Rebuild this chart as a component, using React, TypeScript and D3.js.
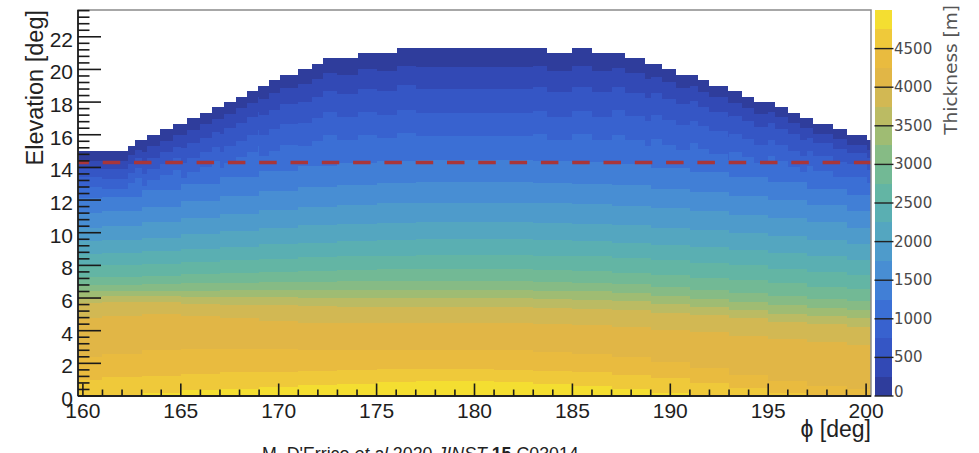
import React from "react";
import * as d3 from "d3";

const WIDTH = 979;
const HEIGHT = 453;

// ---- axis ticks ----
const phiTicks = [160, 165, 170, 175, 180, 185, 190, 195, 200];
const elevationTicks = [0, 2, 4, 6, 8, 10, 12, 14, 16, 18, 20, 22];
const thicknessTicks = [0, 500, 1000, 1500, 2000, 2500, 3000, 3500, 4000, 4500];

// ---- horizon profile (step start phi, elevation of the step) ----
const horizonPhi = [159.75, 162.3, 162.65, 163.25, 163.95, 164.6, 165.3, 166.0, 166.6, 167.2, 167.8, 168.4, 168.95, 169.5, 170.05, 171.0, 171.7, 172.25, 174.05, 176.05, 183.7, 185.0, 186.0, 187.7, 188.7, 189.6, 190.3, 191.4, 192.0, 192.95, 193.65, 194.3, 195.35, 196.0, 196.6, 197.3, 198.3, 199.0, 200.05];
const horizonElevation = [15.0, 15.33, 15.67, 16.0, 16.33, 16.67, 17.0, 17.33, 17.67, 18.0, 18.33, 18.67, 19.0, 19.33, 19.67, 20.0, 20.33, 20.67, 21.0, 21.33, 21.0, 21.33, 21.0, 20.67, 20.33, 20.0, 19.67, 19.33, 19.0, 18.67, 18.33, 18.0, 17.67, 17.33, 17.0, 16.67, 16.33, 16.0, 15.67];

// ---- thickness field, read per phi column ----
const columnPhi = [160, 162, 164, 166, 168, 170, 172, 174, 176, 178, 180, 182, 184, 186, 188, 190, 192, 194, 196, 198, 200];

// upper levels: depth (deg) below the horizon where thickness reaches the level
const depthLevels = [250, 500, 750, 1000];
const depthBelowHorizon = [
  [0.6, 0.6, 0.7, 0.7, 0.7, 0.8, 0.9, 1.0, 1.1, 1.2, 1.2, 1.2, 1.1, 1.1, 0.9, 0.8, 0.7, 0.7, 0.6, 0.6, 0.6],
  [1.1, 1.1, 1.4, 1.5, 1.6, 1.8, 2.0, 2.2, 2.3, 2.5, 2.5, 2.5, 2.4, 2.4, 2.1, 1.8, 1.6, 1.5, 1.3, 1.2, 1.1],
  [1.6, 1.7, 2.1, 2.4, 2.7, 3.0, 3.3, 3.6, 3.8, 4.0, 4.0, 4.0, 3.9, 3.9, 3.5, 3.1, 2.8, 2.6, 2.3, 2.0, 1.8],
  [2.2, 2.3, 2.8, 3.3, 3.7, 4.3, 4.7, 5.0, 5.2, 5.4, 5.4, 5.4, 5.3, 5.3, 5.0, 4.6, 4.2, 3.7, 3.3, 2.9, 2.6],
];

// lower levels: elevation (deg) where thickness reaches the level
const elevationLevels = [1250, 1500, 1750, 2000, 2250, 2500, 2750, 3000, 3250, 3500, 3750, 4000, 4250, 4500, 4750];
const levelElevation = [
  [12.1, 12.2, 12.6, 13.0, 13.4, 13.8, 14.1, 14.3, 14.4, 14.45, 14.45, 14.45, 14.4, 14.35, 14.2, 13.95, 13.7, 13.4, 13.1, 12.7, 12.3],
  [11.2, 11.3, 11.6, 11.95, 12.25, 12.55, 12.8, 12.95, 13.05, 13.1, 13.1, 13.1, 13.05, 13.0, 12.9, 12.7, 12.5, 12.25, 12.0, 11.7, 11.3],
  [10.3, 10.4, 10.65, 10.9, 11.15, 11.4, 11.6, 11.7, 11.8, 11.85, 11.85, 11.85, 11.8, 11.75, 11.65, 11.5, 11.3, 11.1, 10.9, 10.65, 10.3],
  [9.5, 9.55, 9.7, 9.9, 10.1, 10.3, 10.45, 10.55, 10.6, 10.65, 10.65, 10.65, 10.6, 10.55, 10.45, 10.3, 10.15, 10.0, 9.8, 9.55, 9.3],
  [8.7, 8.75, 8.85, 9.0, 9.15, 9.3, 9.4, 9.5, 9.55, 9.6, 9.6, 9.6, 9.55, 9.5, 9.4, 9.25, 9.1, 8.95, 8.75, 8.55, 8.35],
  [8.0, 8.0, 8.1, 8.2, 8.3, 8.4, 8.5, 8.55, 8.6, 8.65, 8.65, 8.65, 8.6, 8.55, 8.45, 8.3, 8.15, 8.0, 7.8, 7.6, 7.4],
  [7.3, 7.3, 7.35, 7.45, 7.55, 7.6, 7.65, 7.7, 7.75, 7.75, 7.75, 7.75, 7.7, 7.65, 7.55, 7.4, 7.25, 7.1, 6.9, 6.7, 6.55],
  [6.8, 6.8, 6.85, 6.9, 6.95, 7.0, 7.0, 7.05, 7.05, 7.05, 7.05, 7.05, 7.0, 6.95, 6.85, 6.7, 6.5, 6.3, 6.1, 5.95, 5.8],
  [6.4, 6.45, 6.45, 6.45, 6.5, 6.5, 6.5, 6.5, 6.5, 6.5, 6.5, 6.5, 6.45, 6.4, 6.3, 6.15, 5.95, 5.75, 5.55, 5.4, 5.25],
  [6.05, 6.1, 6.1, 6.05, 6.05, 6.05, 6.0, 6.0, 6.0, 6.0, 6.0, 6.0, 5.95, 5.9, 5.8, 5.65, 5.45, 5.25, 5.05, 4.9, 4.75],
  [5.7, 5.75, 5.75, 5.65, 5.6, 5.55, 5.5, 5.45, 5.45, 5.45, 5.45, 5.45, 5.4, 5.35, 5.25, 5.1, 4.95, 4.75, 4.55, 4.4, 4.25],
  [4.8, 4.9, 5.0, 4.9, 4.75, 4.6, 4.5, 4.45, 4.45, 4.45, 4.45, 4.45, 4.4, 4.35, 4.2, 4.05, 3.9, 3.7, 3.5, 3.3, 3.1],
  [2.4, 2.6, 2.8, 2.9, 2.9, 2.85, 2.8, 2.8, 2.8, 2.8, 2.8, 2.8, 2.7, 2.6, 2.4, 2.1, 1.7, 1.3, 0.9, 0.6, 0.4],
  [1.0, 1.15, 1.25, 1.35, 1.45, 1.5, 1.55, 1.6, 1.65, 1.65, 1.65, 1.6, 1.55, 1.45, 1.3, 1.1, 0.8, 0.5, 0.2, 0, 0],
  [0, 0, 0.2, 0.35, 0.45, 0.55, 0.65, 0.75, 0.85, 0.9, 0.9, 0.85, 0.75, 0.6, 0.4, 0.2, 0, 0, 0, 0, 0],
];

const cutElevation = 14.3;

// ---- palette (20 contour bands of 250 m) ----
const bandColors = [
  "#2f3d9c", "#3249b5", "#3556c5", "#3862cf", "#3b6fd5",
  "#417fd6", "#488ed3", "#4e9bcb", "#54a6c0", "#5aafb2",
  "#63b5a4", "#72b995", "#86bb85", "#9fbc73", "#bbbb63",
  "#d2b853", "#e1b646", "#e9bb3f", "#efc93a", "#f4de31",
];

const PHI_MIN = 159.75;
const PHI_MAX = 200.25;
const EL_MAX = 23.64;
const T_MAX = 5000;

const SANS = "'Liberation Sans', Arial, Helvetica, sans-serif";
const DEJAVU = "'DejaVu Sans', Verdana, sans-serif";

export default function App() {
  const m = { left: 78, right: 871, top: 10, bottom: 396 };
  const x = d3.scaleLinear().domain([PHI_MIN, PHI_MAX]).range([m.left, m.right]);
  const y = d3.scaleLinear().domain([0, EL_MAX]).range([m.bottom, m.top]);
  const z = d3.scaleLinear().domain([0, T_MAX]).range([m.bottom, m.top]);
  const bandStep = T_MAX / bandColors.length;

  const horizonAt = (phi: number) =>
    horizonElevation[Math.max(0, d3.bisectRight(horizonPhi, phi) - 1)];

  const cells: { key: string; x0: number; x1: number; y0: number; y1: number; color: string }[] = [];
  columnPhi.forEach((p, j) => {
    const a = Math.max(PHI_MIN, p - 1);
    const b = Math.min(PHI_MAX, p + 1);
    const edges = [a, ...horizonPhi.filter((h) => h > a && h < b), b];
    for (let s = 0; s < edges.length - 1; s++) {
      const p0 = edges[s];
      const p1 = edges[s + 1];
      const hz = horizonAt((p0 + p1) / 2);
      const bnd = [
        hz,
        ...depthBelowHorizon.map((d) => hz - d[j]),
        ...levelElevation.map((l) => l[j]),
        0,
      ];
      for (let i = 1; i < bnd.length; i++) bnd[i] = Math.max(0, Math.min(bnd[i], bnd[i - 1]));
      for (let k = 0; k < bandColors.length; k++) {
        if (bnd[k] > bnd[k + 1]) {
          cells.push({
            key: `${j}-${s}-${k}`,
            x0: x(p0),
            x1: x(p1),
            y0: y(bnd[k]),
            y1: y(bnd[k + 1]),
            color: bandColors[k],
          });
        }
      }
    }
  });

  const xMinor = d3.range(160, 201, 1).filter((v) => v % 5 !== 0);
  const yMinor = d3.range(0, 60).map((i) => +(i * 0.4).toFixed(2)).filter((v) => v <= EL_MAX && Math.abs(v / 2 - Math.round(v / 2)) > 1e-6);

  const cbX0 = 874.5;
  const cbX1 = 891.5;

  return (
    <svg
      width={WIDTH}
      height={HEIGHT}
      style={{ position: "absolute", left: 0, top: 0, background: "#fff" }}
    >
      <rect x={0} y={0} width={WIDTH} height={HEIGHT} fill="#fff" />
      {/* heat map */}
      <g shapeRendering="crispEdges">
        {cells.map((c) => (
          <rect key={c.key} x={c.x0} y={c.y0} width={c.x1 - c.x0} height={c.y1 - c.y0} fill={c.color} />
        ))}
      </g>

      {/* dashed cut line */}
      <line
        x1={x(PHI_MIN)}
        x2={x(PHI_MAX)}
        y1={y(cutElevation)}
        y2={y(cutElevation)}
        stroke="#a8363a"
        strokeWidth={3.5}
        strokeDasharray="17.5 13.8"
        strokeDashoffset={6.6}
      />

      {/* frame */}
      <rect x={m.left} y={m.top} width={m.right - m.left} height={m.bottom - m.top} fill="none" stroke="#8a8a8a" strokeWidth={1.5} />
      <line x1={m.left} x2={m.left} y1={m.top} y2={m.bottom} stroke="#222" strokeWidth={1.8} />
      <line x1={m.left} x2={m.right} y1={m.bottom} y2={m.bottom} stroke="#222" strokeWidth={1.8} />

      {/* y ticks */}
      <g stroke="#1a1a1a" strokeWidth={1.6}>
        {elevationTicks.map((v) => (
          <line key={`ym${v}`} x1={m.left} x2={m.left + 23} y1={y(v)} y2={y(v)} />
        ))}
        {yMinor.map((v) => (
          <line key={`yn${v}`} x1={m.left} x2={m.left + 11.5} y1={y(v)} y2={y(v)} />
        ))}
        {phiTicks.map((v) => (
          <line key={`xm${v}`} x1={x(v)} x2={x(v)} y1={m.bottom} y2={m.bottom - 12.5} />
        ))}
        {xMinor.map((v) => (
          <line key={`xn${v}`} x1={x(v)} x2={x(v)} y1={m.bottom} y2={m.bottom - 6.5} />
        ))}
      </g>

      {/* y tick labels */}
      <g fontFamily={SANS} fontSize={21} fill="#1e1e1e">
        {elevationTicks.map((v) => (
          <text key={`yl${v}`} x={m.left - 5} y={y(v) + 2.5} textAnchor="end" dominantBaseline="central">
            {v}
          </text>
        ))}
        {phiTicks.map((v) => (
          <text key={`xl${v}`} x={x(v)} y={417.5} textAnchor="middle">
            {v}
          </text>
        ))}
      </g>

      {/* axis titles */}
      <text
        transform={`translate(43,${m.top}) rotate(-90)`}
        textAnchor="end"
        fontFamily={SANS}
        fontSize={23.5}
        fill="#222"
      >
        Elevation [deg]
      </text>
      <text x={m.right} y={437} textAnchor="end" fontFamily={SANS} fontSize={23} fill="#222">
        {"\u03D5 [deg]"}
      </text>

      {/* colour bar */}
      <g shapeRendering="crispEdges">
        {bandColors.map((c, k) => (
          <rect
            key={`cb${k}`}
            x={cbX0}
            y={z((k + 1) * bandStep)}
            width={cbX1 - cbX0}
            height={z(k * bandStep) - z((k + 1) * bandStep)}
            fill={c}
          />
        ))}
      </g>
      <g stroke="#222" strokeWidth={1.4}>
        {thicknessTicks.map((v) => (
          <line key={`zt${v}`} x1={cbX0} x2={cbX1 + 2} y1={z(v)} y2={z(v)} />
        ))}
      </g>
      <g fontFamily={DEJAVU} fontSize={15} fill="#4a4a4a">
        {thicknessTicks.map((v) => (
          <text key={`zl${v}`} x={cbX1 + 2.5} y={v === 0 ? z(v) - 4 : z(v)} dominantBaseline="central">
            {v}
          </text>
        ))}
      </g>
      <text
        transform="translate(957,5) rotate(-90)"
        textAnchor="end"
        fontFamily={DEJAVU}
        fontSize={18.5}
        fill="#555"
      >
        Thickness [m]
      </text>

      {/* citation */}
      <text x={262} y={459.5} fontFamily={SANS} fontSize={17.8} fill="#222">
        {"M. D'Errico "}
        <tspan fontStyle="italic">et al</tspan>
        {" 2020 "}
        <tspan fontStyle="italic">JINST</tspan>
        {" "}
        <tspan fontWeight="bold">15</tspan>
        {" C03014"}
      </text>
    </svg>
  );
}
